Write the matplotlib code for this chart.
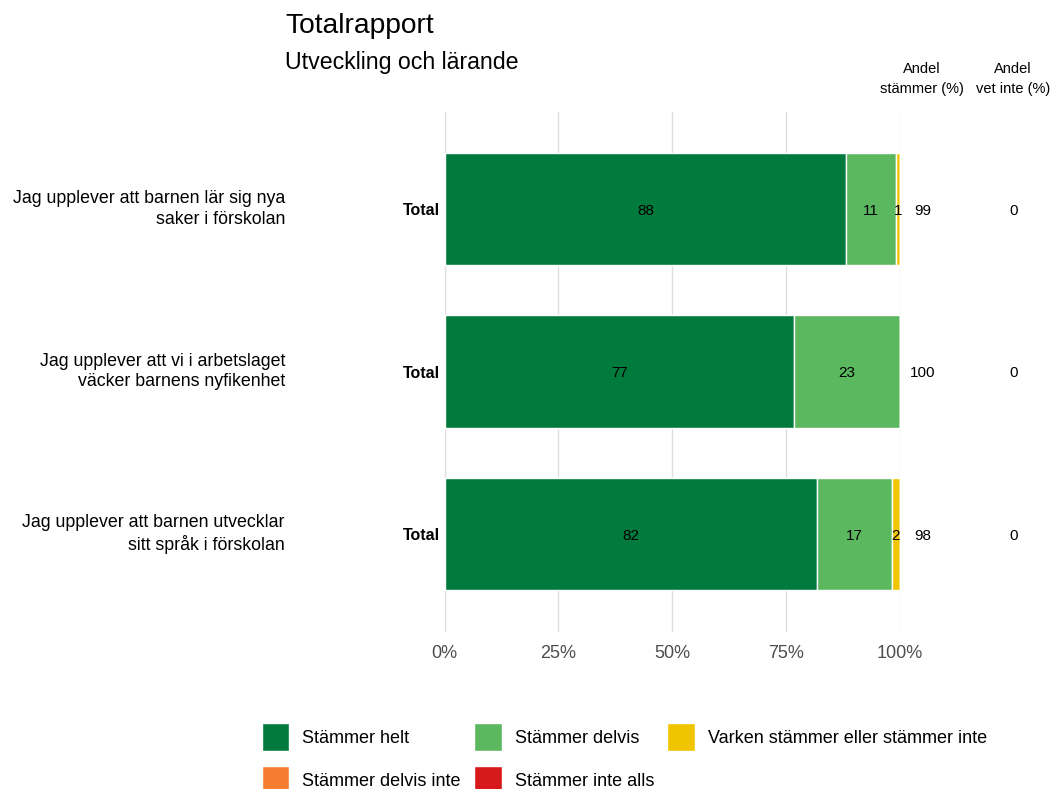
import matplotlib.pyplot as plt
import numpy as np

plt.rcParams['font.family'] = ['Liberation Sans', 'DejaVu Sans']

# --- data ---
questions = ["Jag upplever att barnen lär sig nya\nsaker i förskolan",
             "Jag upplever att vi i arbetslaget\nväcker barnens nyfikenhet",
             "Jag upplever att barnen utvecklar\nsitt språk i förskolan"]
categories = ["Stämmer helt", "Stämmer delvis", "Varken stämmer eller stämmer inte",
              "Stämmer delvis inte", "Stämmer inte alls"]
colors = ["#007A3D", "#5CB85F", "#F1C400", "#F47D30", "#D7191C"]
helt = [88.3, 76.8, 81.8]
delvis = [10.9, 23.2, 16.6]
varken = [0.8, 0.0, 1.6]
delvis_inte = [0, 0, 0]
inte_alls = [0, 0, 0]
andel_stammer = [99, 100, 98]
andel_vet_inte = [0, 0, 0]
xticks = [0, 25, 50, 75, 100]

series = [helt, delvis, varken, delvis_inte, inte_alls]

fig = plt.figure(figsize=(10.55, 7.89), dpi=100)
ax = fig.add_axes([444.5/1055, 1-631.5/789, 455/1055, 520/789])

y = np.arange(len(questions))
left = np.zeros(len(questions))
handles = []
for vals, col, name in zip(series, colors, categories):
    vals = np.array(vals, dtype=float)
    h = ax.barh(y, vals, left=left, height=0.69, color=col, edgecolor='white',
                linewidth=1, label=name, zorder=2)
    handles.append(h)
    for yi, l, v in zip(y, left, vals):
        if v > 0:
            ax.text(l + v/2, yi + 0.01, f"{round(v):.0f}", ha='center', va='center',
                    fontsize=11, color='black', zorder=3)
    left += vals

ax.set_xlim(0, 100)
ax.set_ylim(len(questions) - 0.4, -0.6)
ax.set_xticks(xticks)
ax.set_xticklabels([f"{t}%" for t in xticks], fontsize=13, color='#4D4D4D')
ax.set_yticks([])
ax.tick_params(axis='x', length=0, pad=10)
ax.grid(axis='x', color='#DDDDDD', linewidth=1, zorder=0)
for s in ax.spines.values():
    s.set_visible(False)

# row labels
for yi, q in zip(y, questions):
    ax.text(-0.9, yi + 0.01, "Total", ha='right', va='center', fontsize=11.5,
            fontweight='bold')
    ypix = ax.transData.transform((0, yi))[1]
    fig.text(285/1055, ypix/fig.bbox.height, q, ha='right', va='center',
             fontsize=12.8, linespacing=1.27)

# extra columns
for yi, a, v in zip(y, andel_stammer, andel_vet_inte):
    ax.text(105, yi + 0.01, f"{a}", ha='center', va='center', fontsize=11, clip_on=False)
    ax.text(125, yi + 0.01, f"{v}", ha='center', va='center', fontsize=11, clip_on=False)
fig.text(922/1055, 1-79/789, "Andel\nstämmer (%)", ha='center', va='center',
         fontsize=10.5, linespacing=1.5)
fig.text(1013/1055, 1-79/789, "Andel\nvet inte (%)", ha='center', va='center',
         fontsize=10.5, linespacing=1.5)

# titles
fig.text(285/1055, 1-26/789, "Totalrapport", ha='left', va='center', fontsize=20.3)
fig.text(285/1055, 1-63/789, "Utveckling och lärande", ha='left', va='center', fontsize=16.7)

# legend
order = [0, 3, 1, 4, 2]
fig.legend([handles[i] for i in order], [categories[i] for i in order],
           loc='upper left', bbox_to_anchor=(261.5/1055, 1-723/789), ncol=3,
           frameon=False, fontsize=13, handlelength=1.55, handleheight=2.0,
           handletextpad=0.72, columnspacing=0.72, labelspacing=0.83, borderpad=0,
           borderaxespad=0)

fig.savefig("out.png", dpi=100)
